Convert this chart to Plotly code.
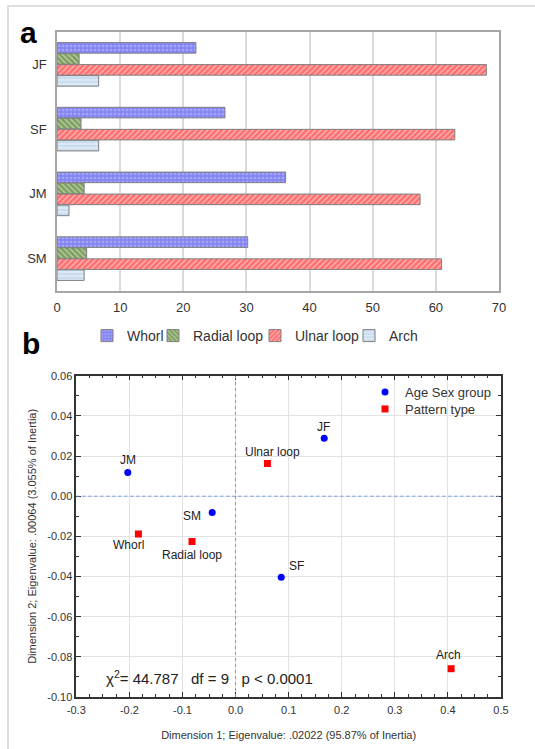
import plotly.graph_objects as go

# ---------- data: panel a ----------
groups = ["JF", "SF", "JM", "SM"]
whorl = [22.0, 26.6, 36.2, 30.2]
radial_loop = [3.5, 3.8, 4.3, 4.7]
ulnar_loop = [68.0, 63.0, 57.5, 60.9]
arch = [6.6, 6.6, 1.9, 4.3]
x_ticks_a = [0, 10, 20, 30, 40, 50, 60, 70]

# ---------- data: panel b ----------
age_sex_labels = ["JM", "JF", "SM", "SF"]
age_sex_x = [-0.203, 0.167, -0.044, 0.086]
age_sex_y = [0.0118, 0.0289, -0.0081, -0.0404]
pattern_labels = ["Ulnar loop", "Whorl", "Radial loop", "Arch"]
pattern_x = [0.060, -0.183, -0.082, 0.406]
pattern_y = [0.0163, -0.0188, -0.0226, -0.0859]
x_ticks_b = [-0.3, -0.2, -0.1, 0.0, 0.1, 0.2, 0.3, 0.4, 0.5]
x_ticktext_b = ["-0.3", "-0.2", "-0.1", "0.0", "0.1", "0.2", "0.3", "0.4", "0.5"]
y_ticks_b = [-0.10, -0.08, -0.06, -0.04, -0.02, 0.0, 0.02, 0.04, 0.06]
y_ticktext_b = ["-0.10", "-0.08", "-0.06", "-0.04", "-0.02", "0.00", "0.02", "0.04", "0.06"]

FONT = "Arial, Liberation Sans, sans-serif"

ML, MR, MT, MB = 57, 34, 32, 52
W, H = 535, 749
PW = W - ML - MR
PH = H - MT - MB


def px_x(px):
    return (px - ML) / PW


def px_y(py):
    return (H - MB - py) / PH


fig = go.Figure()

bar_specs = [
    ("Whorl", whorl, "#8585F2", ".", "#C8C8FF", "legend"),
    ("Radial loop", radial_loop, "#7C9E5C", "\\", "#FFFFFF", "legend3"),
    ("Ulnar loop", ulnar_loop, "#FF6E6E", "/", "#FFFFFF", "legend4"),
    ("Arch", arch, "#DCE8F5", "-", "#A9C7E6", "legend5"),
]
for name, vals, col, shp, fg, lg in bar_specs:
    fig.add_trace(go.Bar(
        y=groups, x=vals, name=name, orientation="h",
        xaxis="x", yaxis="y", legend=lg,
        marker=dict(color=col, line=dict(color="#7F7F7F", width=1),
                    pattern=dict(shape=shp, bgcolor=col, fgcolor=fg,
                                 size=4, solidity=0.35)),
    ))

# panel b scatter
fig.add_trace(go.Scatter(
    x=age_sex_x, y=age_sex_y, mode="markers", name="Age Sex group",
    xaxis="x2", yaxis="y2", legend="legend2",
    marker=dict(color="#0000FF", size=7, symbol="circle"),
))
fig.add_trace(go.Scatter(
    x=pattern_x, y=pattern_y, mode="markers", name="Pattern type",
    xaxis="x2", yaxis="y2", legend="legend6",
    marker=dict(color="#FF0000", size=7, symbol="square"),
))

annotations = []
age_offsets = [(0, 12), (-1, 11), (-20, -4), (15, 11)]
for lab, x, y, (dx, dy) in zip(age_sex_labels, age_sex_x, age_sex_y, age_offsets):
    annotations.append(dict(x=x, y=y, xref="x2", yref="y2", text=lab, showarrow=False,
                            xshift=dx, yshift=dy, font=dict(size=12, color="#222222")))
pat_offsets = [(5, 11), (-10, -11), (0, -13), (-3, 14)]
for lab, x, y, (dx, dy) in zip(pattern_labels, pattern_x, pattern_y, pat_offsets):
    annotations.append(dict(x=x, y=y, xref="x2", yref="y2", text=lab, showarrow=False,
                            xshift=dx, yshift=dy, font=dict(size=12, color="#222222")))

annotations.append(dict(
    x=-0.248, y=-0.0905, xref="x2", yref="y2", xanchor="left", yanchor="middle",
    text="\u03c7<sup>2</sup>= 44.787\u00a0\u00a0\u00a0df = 9\u00a0\u00a0\u00a0p < 0.0001",
    showarrow=False, font=dict(size=15, color="#222222")))

annotations.append(dict(x=px_x(28), y=px_y(32), xref="paper", yref="paper",
                        text="<b>a</b>", showarrow=False, font=dict(size=30, color="black"),
                        xanchor="center", yanchor="middle"))
annotations.append(dict(x=px_x(31), y=px_y(344), xref="paper", yref="paper",
                        text="<b>b</b>", showarrow=False, font=dict(size=30, color="black"),
                        xanchor="center", yanchor="middle"))

shapes = [
    dict(type="rect", xref="paper", yref="paper",
         x0=px_x(8), x1=px_x(560), y0=px_y(780), y1=px_y(6),
         line=dict(color="#D4D4D4", width=1.5), fillcolor="rgba(0,0,0,0)", layer="below"),
    dict(type="line", xref="x2", yref="y2", x0=0, x1=0, y0=-0.10, y1=0.06,
         line=dict(color="#6C9BD6", width=1, dash="dot")),
    dict(type="line", xref="x2", yref="y2", x0=-0.3, x1=0.5, y0=0, y1=0,
         line=dict(color="#6C9BD6", width=1, dash="dot")),
]


def leg(text_px, y_px, size):
    return dict(x=px_x(text_px - 40), y=px_y(y_px), xanchor="left", yanchor="middle",
                font=dict(size=size, color="#333333"), itemwidth=30,
                bgcolor="rgba(0,0,0,0)", borderwidth=0)


fig.update_layout(
    width=W, height=H,
    margin=dict(l=ML, r=MR, t=MT, b=MB, autoexpand=False),
    paper_bgcolor="white", plot_bgcolor="white",
    font=dict(family=FONT, color="#222222"),
    barmode="group", bargap=0.32, bargroupgap=0.04,
    showlegend=True,
    xaxis=dict(domain=[0, px_x(499)], range=[0, 70], tickvals=x_ticks_a,
               showgrid=True, gridcolor="#DADADA", gridwidth=1.5,
               showline=True, linecolor="#A6A6A6", linewidth=1.5, mirror=True,
               ticks="", zeroline=False, tickfont=dict(size=13, color="#333333"),
               ticklabelstandoff=4, anchor="y", automargin=False),
    yaxis=dict(domain=[px_y(291), 1], autorange="reversed",
               showline=True, linecolor="#A6A6A6", linewidth=1.5, mirror=True,
               ticks="", tickfont=dict(size=13, color="#333333"), anchor="x",
               ticklabelstandoff=6, automargin=False),
    xaxis2=dict(domain=[px_x(76.3), 1], range=[-0.3, 0.5],
                tickvals=x_ticks_b, ticktext=x_ticktext_b,
                showgrid=True, gridcolor="#E3E3E3", gridwidth=1,
                showline=True, linecolor="#333333", linewidth=1.5, mirror="allticks",
                ticks="inside", ticklen=5, tickcolor="#333333",
                minor=dict(dtick=0.025, ticks="inside", ticklen=3, tickcolor="#333333", showgrid=False),
                zeroline=False, tickfont=dict(size=11, color="#333333"),
                ticklabelstandoff=2,
                title=dict(text="Dimension 1; Eigenvalue: .02022 (95.87% of Inertia)",
                           font=dict(size=11, color="#333333"), standoff=16),
                anchor="y2", automargin=False),
    yaxis2=dict(domain=[0, px_y(375.7)], range=[-0.10, 0.06],
                tickvals=y_ticks_b, ticktext=y_ticktext_b,
                showgrid=True, gridcolor="#E3E3E3", gridwidth=1,
                showline=True, linecolor="#333333", linewidth=1.5, mirror="allticks",
                ticks="inside", ticklen=5, tickcolor="#333333",
                minor=dict(dtick=0.01, ticks="inside", ticklen=3, tickcolor="#333333", showgrid=False),
                zeroline=False, tickfont=dict(size=11, color="#333333"),
                title=dict(text="Dimension 2; Eigenvalue: .00064 (3.055% of Inertia)",
                           font=dict(size=11, color="#333333"), standoff=8),
                anchor="x2", automargin=False),
    legend=leg(127, 336, 14),
    legend3=leg(193, 336, 14),
    legend4=leg(295, 336, 14),
    legend5=leg(389, 336, 14),
    legend2=leg(405, 392, 13),
    legend6=leg(405, 409, 13),
    annotations=annotations,
    shapes=shapes,
)

fig.write_html("out.html", config={"displayModeBar": False},
               post_script="document.body.style.margin='0px';")
